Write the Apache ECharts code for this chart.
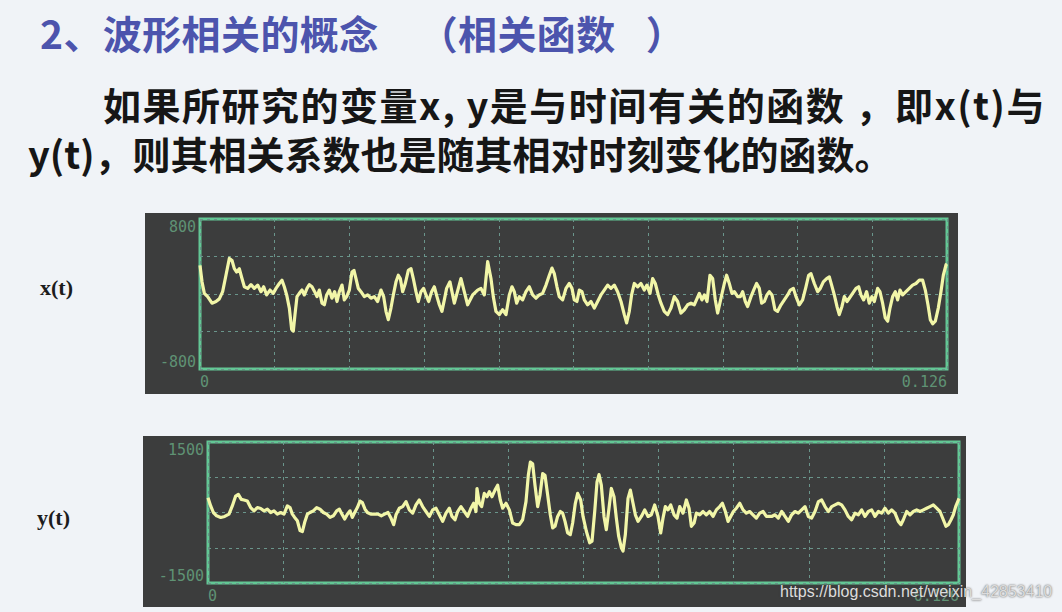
<!DOCTYPE html>
<html>
<head>
<meta charset="utf-8">
<script src="https://cdn.jsdelivr.net/npm/echarts@6/dist/echarts.min.js"></script>
<style>
html,body{margin:0;padding:0;width:1062px;height:612px;overflow:hidden;background:#f0f3f7;}
#chart{position:absolute;left:0;top:0;width:1062px;height:612px;}
.txt{position:absolute;white-space:nowrap;font-family:"Noto Sans CJK SC",sans-serif;font-weight:700;line-height:1;}
#title{left:40px;top:13px;font-size:39px;color:#4c54ad;letter-spacing:0.4px;}
#title .p1{margin-left:40px;}
#title .p2{margin-left:30px;}
#line1{left:103px;top:85px;font-size:38px;color:#161616;letter-spacing:1.5px;}
#line2{left:28px;top:134px;font-size:38px;color:#161616;}
#wm{position:absolute;left:780px;top:583px;font-family:"Liberation Sans",Arial,sans-serif;font-size:16px;color:#dcdcdc;text-shadow:0 0 2px rgba(60,60,60,0.9);white-space:nowrap;z-index:5;}
</style>
</head>
<body>
<div id="chart"></div>
<div class="txt" id="title">2、波形相关的概念<span class="p1">（</span>相关函数<span class="p2">）</span></div>
<div class="txt" id="line1">如果所研究的变量x, y是与时间有关的函数 ，即x(t)与</div>
<div class="txt" id="line2">y(t)，则其相关系数也是随其相对时刻变化的函数。</div>
<div id="wm">https://blog.csdn.net/weixin_42853410</div>
<script>
// time in ms (0 .. 126 ms = 0 .. 0.126 s), amplitude
const xSignal = [[0,305],[0.34,130],[0.73,7],[1.29,-28],[2.02,-98],[2.70,-80],[3.26,-52],[3.82,25],[4.38,200],[4.95,380],[5.40,357],[5.79,270],[6.18,235],[6.63,270],[7.08,165],[7.48,77],[8.04,60],[8.60,100],[9.16,60],[9.73,95],[10.29,25],[10.74,77],[11.24,-10],[11.81,42],[12.37,7],[12.82,60],[13.38,112],[13.83,147],[14.22,77],[14.62,-10],[15.07,-150],[15.46,-378],[15.74,-395],[16.02,-220],[16.36,-28],[16.75,7],[17.20,42],[17.60,-10],[18.05,60],[18.44,100],[18.89,77],[19.34,25],[19.73,-28],[20.13,42],[20.58,-98],[20.97,-115],[21.36,-10],[21.81,42],[22.26,-45],[22.71,25],[23.11,-80],[23.50,25],[23.95,95],[24.34,-63],[24.74,-28],[25.19,42],[25.64,235],[25.97,252],[26.31,165],[26.70,60],[27.15,25],[27.72,-28],[28.28,-10],[28.84,-45],[29.40,-28],[29.96,-80],[30.53,42],[30.98,-28],[31.37,-185],[31.76,-273],[32.21,-150],[32.61,-10],[33.06,130],[33.45,200],[33.79,165],[34.18,25],[34.63,112],[35.14,252],[35.59,270],[35.98,165],[36.43,25],[36.82,-80],[37.27,25],[37.72,60],[38.12,-10],[38.57,-80],[39.07,25],[39.52,77],[39.97,-28],[40.37,-115],[40.81,-185],[41.21,-63],[41.60,60],
[42.16,130],[42.90,-98],[44.02,165],[45.14,-115],[45.99,-10],[46.83,42],[47.39,60],[47.96,-10],[48.52,345],[49.08,165],[49.47,-28],[49.92,-185],[50.49,-220],[51.05,-168],[51.61,-220],[52.17,-10],[52.62,77],[53.01,25],[53.41,-98],[53.86,-28],[54.42,-63],[54.98,25],[55.55,77],[56.11,-10],[56.67,-45],[57.23,-10],[57.79,7],[58.36,95],[58.92,200],[59.37,277],[59.76,217],[60.21,77],[60.60,-28],[61.17,-63],[61.73,60],[62.29,112],[62.74,60],[63.13,-63],[63.58,-80],[63.98,42],[64.43,25],[64.82,-63],[65.38,-115],[65.95,-80],[66.51,-150],[67.07,-80],[67.63,-10],[68.19,42],[68.76,95],[69.32,60],[69.88,95],[70.44,25],[71.01,-80],[71.57,-220],[71.96,-308],[72.41,-185],[72.80,-10],[73.25,112],[73.82,77],[74.38,112],[74.94,42],[75.39,95],[75.90,7],[76.35,165],[76.80,112],[77.30,-10],[77.75,-98],[78.31,-185],[78.88,-220],[79.44,-150],[80.00,-28],[80.56,-80],[81.12,-203],[81.69,-168],[82.25,-115],[82.81,-98],[83.37,-115],
[84.22,7],[84.67,-63],[85.07,-10],[85.52,-80],[86.02,200],[86.47,165],[86.92,-63],[87.31,-203],[87.88,-45],[88.44,112],[88.83,200],[89.28,112],[89.73,7],[90.13,25],[90.69,-28],[91.14,-28],[91.53,25],[91.98,-80],[92.37,-133],[92.94,-28],[93.39,42],[93.89,112],[94.34,60],[94.74,-98],[95.19,-80],[95.63,-10],[96.03,25],[96.48,-10],[96.98,-168],[97.43,-185],[98.00,-115],[98.56,-63],[99.12,-10],[99.57,42],[100.08,60],[100.53,-28],[101.09,-115],[101.65,-63],[102.21,77],[102.66,200],[103.06,217],[103.62,112],[104.18,25],[104.63,60],[105.14,130],[105.70,165],[106.15,182],[106.54,95],[106.99,-10],[107.44,-133],[107.83,-220],[108.28,-133],[108.68,-28],[109.13,-80],[109.52,-45],[110.08,7],[110.65,60],[111.10,77],[111.49,-10],[111.94,-63],[112.44,25],[112.89,-98],[113.34,-28],[113.74,-80],[114.30,60],[114.69,25],[115.14,-98],[115.59,-255],[115.99,-290],[116.38,-150],[116.83,-28],[117.28,25],[117.67,-63],[118.07,42],[118.52,-10],[119.08,25],[119.64,60],[120.20,95],[120.77,112],[121.33,147],[121.89,147],[122.34,42],[122.79,-115],[123.18,-273],[123.58,-318],[124.03,-290],[124.53,-150],[124.98,25],[125.38,200],[125.83,311],[126,320]];

const ySignal = [[0,314],[0.45,140],[0.90,0],[1.45,-70],[2.13,-105],[2.80,-84],[3.52,-35],[4.08,140],[4.64,349],[5.09,384],[5.59,279],[6.04,265],[6.60,244],[7.16,105],[7.72,35],[8.28,105],[8.84,84],[9.40,35],[9.96,70],[10.52,0],[11.07,35],[11.63,-35],[12.19,0],[12.75,-35],[13.31,140],[13.76,105],[14.15,-35],[14.54,-105],[14.99,-175],[15.44,-384],[15.83,-405],[16.22,-209],[16.67,-35],[17.11,0],[17.67,35],[18.23,105],[18.79,70],[19.35,0],[19.91,-35],[20.47,-105],[21.03,-70],[21.59,35],[22.04,70],[22.48,-35],[22.93,-140],[23.38,-35],[23.83,35],[24.22,-105],[24.61,0],[25.06,105],[25.50,244],[25.90,209],[26.34,70],[26.74,0],[27.30,-35],[27.96,-35],[28.52,-35],[29.08,-70],[29.64,-35],[30.20,0],[30.65,-105],[31.15,-259],
[31.54,-49],[32.10,91],[32.66,126],[33.22,231],[33.78,56],[34.34,-14],[34.89,161],[35.45,266],[36.01,126],[36.57,21],[37.13,-84],[37.69,56],[38.25,91],[38.81,-49],[39.37,-189],[39.93,-14],[40.49,91],[40.94,-84],[41.44,-154],[41.89,21],[42.44,126],[43.00,21],[43.56,-84],[44.12,91],[44.57,196],[44.96,21],[45.13,511],[45.52,196],[45.91,126],[46.36,406],[46.81,336],[47.20,441],[47.65,336],[48.15,476],[48.60,581],[49.04,266],[49.44,91],[50.00,196],[50.56,56],[51.11,-224],[51.67,-259],[52.23,-259],[52.79,-154],[53.35,231],[53.74,791],[54.08,1071],[54.47,1036],[54.86,581],[55.31,126],[55.70,371],[56.15,826],[56.54,791],[56.99,371],[57.43,-49],[57.83,-329],[58.22,-294],[58.66,-84],[59.11,21],[59.50,-14],[59.90,-189],[60.34,-434],[60.79,-469],[61.18,-224],[61.63,196],[62.02,406],
[62.53,266],[62.92,-84],[63.48,-399],[64.04,-644],[64.43,-609],[64.88,21],[65.27,651],[65.60,805],[65.99,581],[66.44,-84],[66.83,-364],[67.28,91],[67.67,511],[68.12,336],[68.51,-119],[68.90,-504],[69.35,-749],[69.63,-819],[70.02,-469],[70.47,301],[70.86,476],[71.31,196],[71.70,-49],[72.15,-189],[72.71,-84],[73.27,56],[73.83,-84],[74.38,-49],[74.94,161],[75.50,-84],[75.95,-434],[76.34,-119],[76.73,126],[77.18,56],[77.63,161],[78.19,-49],[78.69,-119],[79.14,126],[79.70,-14],[80.26,266],[80.71,91],[81.10,-294],[81.55,-224],[81.94,-14],[82.50,-49],[83.06,21],[83.61,-49],[84.17,21],[84.73,-84],[85.29,56],[85.85,126],[86.30,196],[86.80,21],[87.25,-189],[87.70,-84],[88.14,21],[88.65,91],[89.21,196],[89.77,56],[90.32,-14],[90.88,21],[91.44,-49],[92.00,-119],[92.56,-14],[93.12,21],[93.68,-84],
[94.57,-84],[95.13,-49],[95.69,-119],[96.25,21],[96.81,-84],[97.37,-189],[97.92,-49],[98.48,21],[99.04,-14],[99.60,56],[100.16,126],[100.72,-84],[101.28,-119],[101.84,21],[102.40,231],[102.96,266],[103.52,126],[104.08,21],[104.64,126],[105.20,161],[105.75,196],[106.31,161],[106.87,56],[107.43,-84],[107.99,-154],[108.55,-14],[109.11,-49],[109.67,56],[110.23,-84],[110.79,21],[111.35,56],[111.91,-84],[112.47,21],[113.03,-14],[113.58,91],[114.14,-14],[114.70,56],[115.26,-14],[115.82,-189],[116.27,-259],[116.66,-154],[117.22,21],[117.78,-49],[118.34,21],[118.90,56],[119.46,21],[120.02,56],[120.58,91],[121.14,126],[121.69,161],[122.25,91],[122.81,21],[123.37,-154],[123.82,-294],[124.21,-259],[124.66,-154],[125.05,-49],[125.44,126],[125.89,266],[126,301]];

const xRange = [-800, 800];
const yRange = [-1500, 1500];
const timeMaxMs = 126;
const timeMaxLabel = '0.126';

const GREEN = '#63c795';
const LABEL = '#5f9274';
const GRIDLINE = '#6a958b';
const TRACE = '#f2f6a8';
const PANEL = '#3c3d3d';

function xAxisCfg(gi){
  return {
    gridIndex: gi, type: 'value', min: 0, max: timeMaxMs, interval: 12.6,
    axisLine: {show: false}, axisTick: {show: false},
    splitLine: {show: true, lineStyle: {color: GRIDLINE, type: [3, 4], width: 1}},
    axisLabel: {
      show: true, showMinLabel: true, showMaxLabel: true,
      color: LABEL, fontFamily: 'DejaVu Sans Mono', fontSize: 15, margin: 5,
      alignMinLabel: 'left', alignMaxLabel: 'right',
      formatter: v => (v === 0 ? '0' : (Math.abs(v - timeMaxMs) < 1e-6 ? timeMaxLabel : ''))
    }
  };
}
function yAxisCfg(gi, range){
  return {
    gridIndex: gi, type: 'value', min: range[0], max: range[1], interval: range[1] / 2,
    axisLine: {show: false}, axisTick: {show: false},
    splitLine: {show: true, lineStyle: {color: GRIDLINE, type: [3, 4], width: 1}},
    axisLabel: {
      show: true, showMinLabel: true, showMaxLabel: true,
      color: LABEL, fontFamily: 'DejaVu Sans Mono', fontSize: 15, margin: 4,
      verticalAlignMinLabel: 'bottom', verticalAlignMaxLabel: 'top',
      formatter: v => ((v === range[0] || v === range[1]) ? String(v) : '')
    }
  };
}

const chart = echarts.init(document.getElementById('chart'), null, {renderer: 'svg'});
chart.setOption({
  animation: false,
  backgroundColor: 'transparent',
  graphic: [
    {type: 'rect', z: -10, shape: {x: 145, y: 213, width: 813, height: 181}, style: {fill: PANEL}},
    {type: 'rect', z: -10, shape: {x: 143, y: 436, width: 823, height: 171}, style: {fill: PANEL}},
    {type: 'text', x: 40, y: 287, style: {text: 'x(t)', fontFamily: '"Liberation Serif", serif', fontWeight: 'bold', fontSize: 22, fill: '#1c1c1c', align: 'left', verticalAlign: 'middle'}},
    {type: 'text', x: 37, y: 517, style: {text: 'y(t)', fontFamily: '"Liberation Serif", serif', fontWeight: 'bold', fontSize: 22, fill: '#1c1c1c', align: 'left', verticalAlign: 'middle'}}
  ],
  grid: [
    {left: 200, top: 219, width: 747, height: 150, show: true, backgroundColor: PANEL, borderColor: GREEN, borderWidth: 3},
    {left: 208, top: 442, width: 751, height: 141, show: true, backgroundColor: PANEL, borderColor: GREEN, borderWidth: 3}
  ],
  xAxis: [xAxisCfg(0), xAxisCfg(1)],
  yAxis: [yAxisCfg(0, xRange), yAxisCfg(1, yRange)],
  series: [
    {type: 'line', xAxisIndex: 0, yAxisIndex: 0, data: xSignal, showSymbol: false, z: 5,
     lineStyle: {color: TRACE, width: 3.2, join: 'round'}},
    {type: 'line', xAxisIndex: 1, yAxisIndex: 1, data: ySignal, showSymbol: false, z: 5,
     lineStyle: {color: TRACE, width: 3.2, join: 'round'}}
  ]
});
</script>
</body>
</html>
